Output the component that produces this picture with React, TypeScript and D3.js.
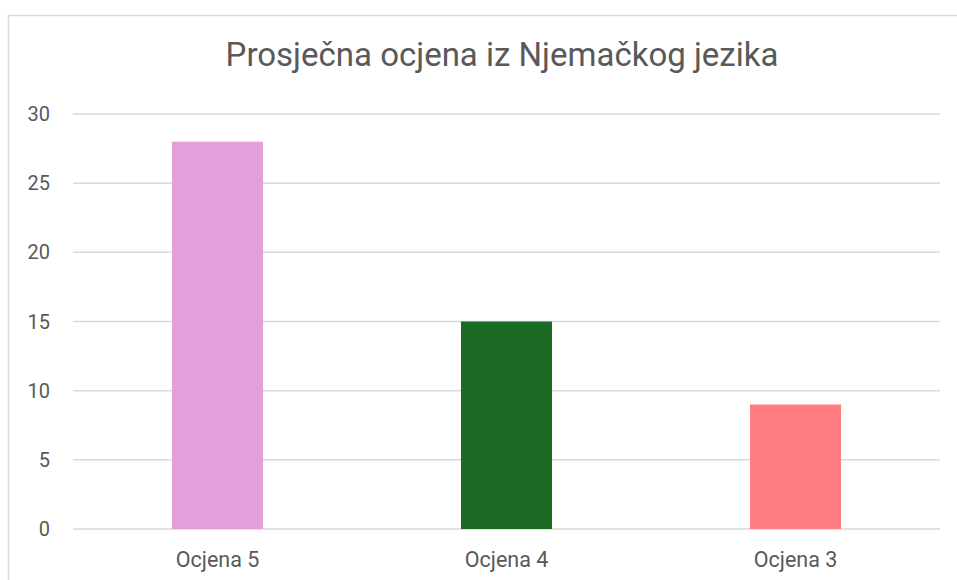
import { useEffect, useRef } from "react"
import * as d3 from "d3"

const categories = ["Ocjena 5", "Ocjena 4", "Ocjena 3"]
const values = [28, 15, 9]
const barColors = ["#E39EDC", "#1B6B24", "#FF7C80"]
const yTicks = [0, 5, 10, 15, 20, 25, 30]
const title = "Prosječna ocjena iz Njemačkog jezika"

export default function App() {
  const svgRef = useRef<SVGSVGElement>(null)

  useEffect(() => {
    if (!svgRef.current) return
    const width = 957
    const height = 580
    const margin = { top: 114, right: 17, bottom: 51, left: 73 }

    const svg = d3.select(svgRef.current).attr("width", width).attr("height", height)
    svg.selectAll("*").remove()

    // chart frame
    svg
      .append("rect")
      .attr("x", 8.5)
      .attr("y", 15.5)
      .attr("width", 1000)
      .attr("height", 700)
      .attr("fill", "#fff")
      .attr("stroke", "#d9d9d9")
      .attr("stroke-width", 1.5)

    const x = d3
      .scaleBand()
      .domain(categories)
      .range([margin.left, width - margin.right])
      .padding(0)

    const y = d3
      .scaleLinear()
      .domain([0, 30])
      .range([height - margin.bottom, margin.top])

    // gridlines
    svg
      .append("g")
      .selectAll("line")
      .data(yTicks)
      .enter()
      .append("line")
      .attr("x1", margin.left)
      .attr("x2", width - margin.right)
      .attr("y1", (d) => y(d))
      .attr("y2", (d) => y(d))
      .attr("stroke", "#d9d9d9")
      .attr("stroke-width", 1.5)

    // y tick labels
    svg
      .append("g")
      .selectAll("text")
      .data(yTicks)
      .enter()
      .append("text")
      .attr("x", 50)
      .attr("y", (d) => y(d))
      .attr("dy", "0.35em")
      .attr("text-anchor", "end")
      .style("font-family", "Roboto, sans-serif")
      .style("font-size", "20px")
      .style("fill", "#595959")
      .text((d) => d)

    // bars
    const barW = x.bandwidth() * 0.315
    svg
      .append("g")
      .selectAll("rect")
      .data(values)
      .enter()
      .append("rect")
      .attr("x", (d, i) => (x(categories[i]) || 0) + (x.bandwidth() - barW) / 2)
      .attr("y", (d) => y(d))
      .attr("width", barW)
      .attr("height", (d) => y(0) - y(d))
      .style("fill", (d, i) => barColors[i])

    // category labels
    svg
      .append("g")
      .selectAll("text")
      .data(categories)
      .enter()
      .append("text")
      .attr("x", (d) => (x(d) || 0) + x.bandwidth() / 2)
      .attr("y", 567)
      .attr("text-anchor", "middle")
      .style("font-family", "Roboto, sans-serif")
      .style("font-size", "21.5px")
      .style("fill", "#595959")
      .text((d) => d)

    // title
    svg
      .append("text")
      .attr("x", 502)
      .attr("y", 66)
      .attr("text-anchor", "middle")
      .style("font-family", "Roboto, sans-serif")
      .style("font-size", "33px")
      .style("fill", "#595959")
      .text(title)
  }, [])

  return (
    <svg
      ref={svgRef}
      style={{ position: "absolute", left: 0, top: 0, display: "block" }}
    ></svg>
  )
}
